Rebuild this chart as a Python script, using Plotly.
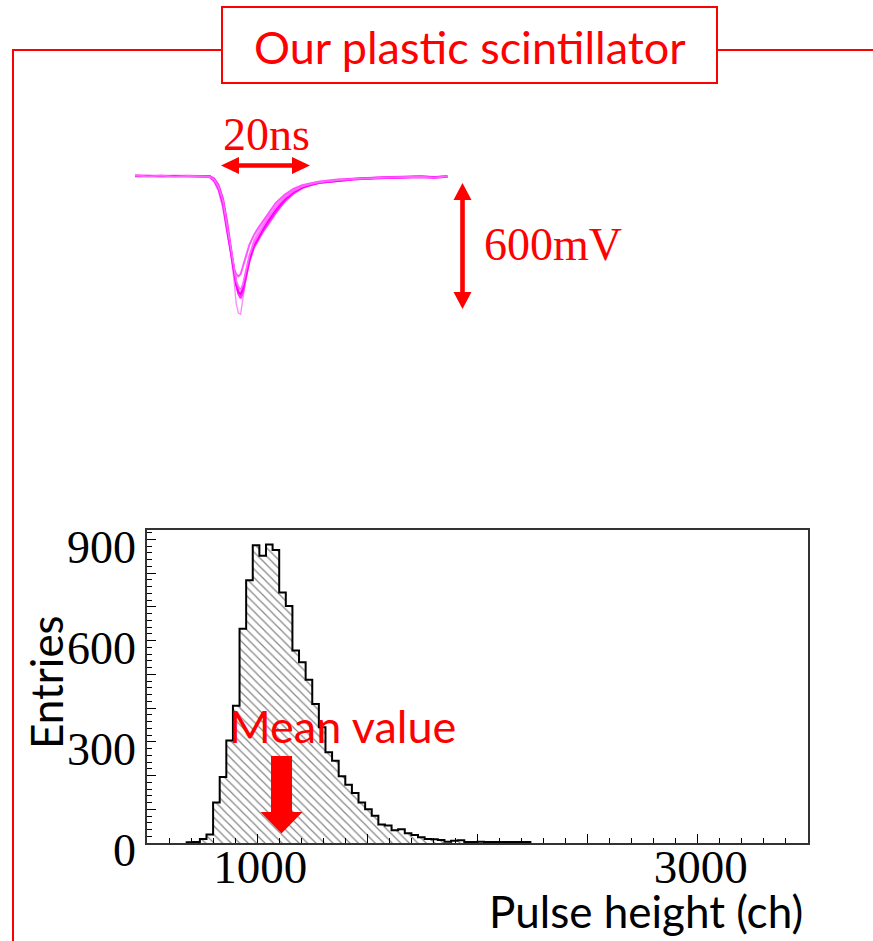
import plotly.graph_objects as go

# ---------------- data ----------------
# Pulse-height histogram (ch)
bin_start = 680.0
bin_width = 30.0
counts = [2, 3, 12, 25, 120, 196, 304, 407, 635, 779,
          883, 852, 885, 869, 743, 703, 571, 536, 484, 412,
          343, 269, 244, 198, 173, 148, 120, 100, 81, 55,
          52, 38, 41, 29, 24, 17, 12, 11, 9, 4,
          7, 8, 3, 3, 4, 3, 3, 3, 3, 3,
          3, 3]
x_tickvals = [500, 1000, 1500, 2000, 2500, 3000, 3500]
x_ticktext = ["", "1000", "", "", "", "3000", ""]
y_tickvals = [0, 100, 200, 300, 400, 500, 600, 700, 800, 900]
y_ticktext = ["0", "", "", "300", "", "", "600", "", "", "900"]

# Oscilloscope waveforms (time in ns, amplitude in mV)
t_ns = [0, 3, 6, 9, 12, 15, 17, 18, 19, 20, 21, 22, 22.5, 23, 23.5, 24, 24.5, 25, 26, 27, 28,
        29, 30, 31, 32, 34, 36, 38, 40, 42, 46, 50, 55, 60, 65, 68, 71]
pulse_a = [0, -4, -1, -5, -2, -3, -6, -20, -55, -120, -240, -380, -440, -500, -530, -545, -520, -470,
           -380, -320, -280, -245, -210, -180, -150, -105, -74, -52, -40, -32, -22, -16, -11, -8, -6, -10, -4]
pulse_b = [-2, -1, -4, -2, -3, -1, -3, -12, -42, -105, -230, -400, -500, -610, -655, -660, -600, -520,
           -390, -310, -265, -230, -195, -165, -140, -98, -68, -48, -37, -29, -20, -14, -10, -7, -5, -8, -3]
pulse_c = [-1, -3, -2, -4, -1, -2, -8, -28, -70, -150, -275, -400, -445, -470, -480, -470, -440, -400,
           -330, -285, -250, -220, -185, -155, -130, -92, -64, -46, -36, -28, -19, -13, -9, -6, -4, -7, -4]
pulse_d = [-3, -1, -2, -3, -4, -2, -5, -22, -58, -128, -255, -390, -460, -520, -555, -565, -540, -495,
           -400, -335, -295, -260, -225, -195, -165, -115, -80, -57, -43, -34, -24, -17, -12, -9, -6, -9, -5]
pulse_e = [0, -2, -3, -1, -3, -4, -4, -15, -47, -112, -228, -372, -450, -515, -565, -585, -560, -505,
           -410, -345, -305, -270, -240, -210, -178, -125, -86, -60, -45, -35, -25, -18, -13, -9, -7, -11, -6]
pulse_colors = ["#FF8CFF", "#FF55FF", "#FF33FF", "#FF00FF", "#FF66FF"]
pulse_widths = [1.4, 2.0, 2.0, 2.4, 1.8]

# ---------------- layout helpers ----------------
W, H = 873, 941


def fx(x):
    return x / W


def fy(y):
    return 1 - y / H


# histogram frame (pixels)
HX0, HX1, HY0, HY1 = 147, 808, 530, 843
# waveform axes mapping
T0_PX, NS_PX = 135.0, 4.4
V0_PY, MV_PX = 175.5, 0.21
WX0, WX1, WY0, WY1 = 100, 640, 95, 360

edges = [bin_start + i * bin_width for i in range(len(counts) + 1)]
centers = [bin_start + (i + 0.5) * bin_width for i in range(len(counts))]

fig = go.Figure()

fig.add_trace(go.Bar(
    x=centers, y=counts, width=bin_width,
    marker=dict(color="white", line=dict(width=0),
                pattern=dict(shape="\\", fgcolor="#858585", bgcolor="white",
                             size=6, solidity=0.2)),
    xaxis="x", yaxis="y", showlegend=False, hoverinfo="skip"))

step_x = [edges[0]] + edges[:-1] + [edges[-1]]
step_y = [0] + counts + [0]
fig.add_trace(go.Scatter(
    x=step_x, y=step_y, mode="lines", line=dict(color="black", width=2, shape="hv"),
    xaxis="x", yaxis="y", showlegend=False, hoverinfo="skip"))

for p, c, w in zip([pulse_b, pulse_c, pulse_e, pulse_d, pulse_a], pulse_colors, pulse_widths):
    fig.add_trace(go.Scatter(
        x=t_ns, y=p, mode="lines", line=dict(color=c, width=w),
        xaxis="x2", yaxis="y2", showlegend=False, hoverinfo="skip"))

serif = "Liberation Serif"
sans = "Lato"

fig.update_layout(
    template="none",
    width=W, height=H, autosize=False,
    margin=dict(l=0, r=0, t=0, b=0, pad=0, autoexpand=False),
    paper_bgcolor="white", plot_bgcolor="rgba(0,0,0,0)",
    bargap=0, showlegend=False,
    xaxis=dict(domain=[fx(HX0), fx(HX1)], anchor="y", range=[500, 3500], automargin=False,
               tickmode="array", tickvals=x_tickvals, ticktext=x_ticktext,
               ticks="inside", ticklen=9, tickwidth=1.3, tickcolor="black",
               minor=dict(tickmode="linear", tick0=0, dtick=100, ticks="inside",
                          ticklen=5, tickwidth=1, tickcolor="black", showgrid=False),
               showline=True, linecolor="#333333", linewidth=1.5, mirror=True,
               showgrid=False, zeroline=False,
               ticklabelstandoff=-18, ticklabelshift=3,
               tickfont=dict(family=serif, size=47, color="black")),
    yaxis=dict(domain=[fy(HY1), fy(HY0)], anchor="x", range=[0, 928], automargin=False,
               tickmode="array", tickvals=y_tickvals, ticktext=y_ticktext,
               ticks="inside", ticklen=9, tickwidth=1.3, tickcolor="black",
               minor=dict(tickmode="linear", tick0=0, dtick=20, ticks="inside",
                          ticklen=5, tickwidth=1, tickcolor="black", showgrid=False),
               showline=True, linecolor="#333333", linewidth=1.5, mirror=True,
               showgrid=False, zeroline=False,
               ticklabelshift=7,
               tickfont=dict(family=serif, size=46, color="black")),
    xaxis2=dict(domain=[fx(WX0), fx(WX1)], anchor="y2", automargin=False,
                range=[(WX0 - T0_PX) / NS_PX, (WX1 - T0_PX) / NS_PX],
                visible=False, showgrid=False, zeroline=False),
    yaxis2=dict(domain=[fy(WY1), fy(WY0)], anchor="x2", automargin=False,
                range=[-(WY1 - V0_PY) / MV_PX, -(WY0 - V0_PY) / MV_PX],
                visible=False, showgrid=False, zeroline=False),
)


def poly(points):
    return "M " + " L ".join(f"{fx(x):.5f},{fy(y):.5f}" for x, y in points) + " Z"


red = "#FF0000"
shapes = []
# outer red frame lines
shapes.append(dict(type="path", xref="paper", yref="paper",
                   path=f"M {fx(13)},{fy(945)} L {fx(13)},{fy(50)} L {fx(222)},{fy(50)}",
                   line=dict(color=red, width=2)))
shapes.append(dict(type="line", xref="paper", yref="paper",
                   x0=fx(717), y0=fy(50), x1=fx(875), y1=fy(50),
                   line=dict(color=red, width=2)))
shapes.append(dict(type="rect", xref="paper", yref="paper",
                   x0=fx(222), y0=fy(83), x1=fx(717), y1=fy(7),
                   line=dict(color=red, width=2), fillcolor="white"))


def harrow(x1, x2, yc, t, L, h):
    return [(x1, yc), (x1 + L, yc - h), (x1 + L, yc - t), (x2 - L, yc - t), (x2 - L, yc - h),
            (x2, yc), (x2 - L, yc + h), (x2 - L, yc + t), (x1 + L, yc + t), (x1 + L, yc + h)]


def varrow(xc, y1, y2, t, L, h):
    return [(xc, y1), (xc + h, y1 + L), (xc + t, y1 + L), (xc + t, y2 - L), (xc + h, y2 - L),
            (xc, y2), (xc - h, y2 - L), (xc - t, y2 - L), (xc - t, y1 + L), (xc - h, y1 + L)]


shapes.append(dict(type="path", xref="paper", yref="paper",
                   path=poly(harrow(221, 310, 165.5, 2.3, 18, 8.5)),
                   line=dict(width=0), fillcolor=red))
shapes.append(dict(type="path", xref="paper", yref="paper",
                   path=poly(varrow(462.5, 183, 309, 2.3, 17, 9)),
                   line=dict(width=0), fillcolor=red))
# mean-value arrow (down)
shapes.append(dict(type="path", xref="paper", yref="paper",
                   path=poly([(271, 756), (292, 756), (292, 812), (302.5, 812), (281.5, 833.5),
                              (260.5, 812), (271, 812)]),
                   line=dict(width=0), fillcolor=red))
fig.update_layout(shapes=shapes)

ann = []
ann.append(dict(text="Our plastic scintillator", x=fx(470), y=fy(47), xref="paper", yref="paper",
                showarrow=False, xanchor="center", yanchor="middle",
                font=dict(family=sans, size=45, color=red)))
ann.append(dict(text="20ns", x=fx(266), y=fy(134), xref="paper", yref="paper",
                showarrow=False, xanchor="center", yanchor="middle",
                font=dict(family=serif, size=46, color=red)))
ann.append(dict(text="600mV", x=fx(482), y=fy(244), xref="paper", yref="paper",
                showarrow=False, xanchor="left", yanchor="middle",
                font=dict(family=serif, size=46, color=red)))
ann.append(dict(text="Mean value", x=fx(227), y=fy(726), xref="paper", yref="paper",
                showarrow=False, xanchor="left", yanchor="middle",
                font=dict(family=sans, size=45, color=red)))
ann.append(dict(text="Pulse height (ch)", x=fx(805), y=fy(911), xref="paper", yref="paper",
                showarrow=False, xanchor="right", yanchor="middle",
                font=dict(family=sans, size=44, color="black")))
ann.append(dict(text="Entries", x=fx(46), y=fy(682), xref="paper", yref="paper",
                showarrow=False, xanchor="center", yanchor="middle", textangle=-90,
                font=dict(family=sans, size=44, color="black")))
fig.update_layout(annotations=ann)

fig.write_html("out.html")
